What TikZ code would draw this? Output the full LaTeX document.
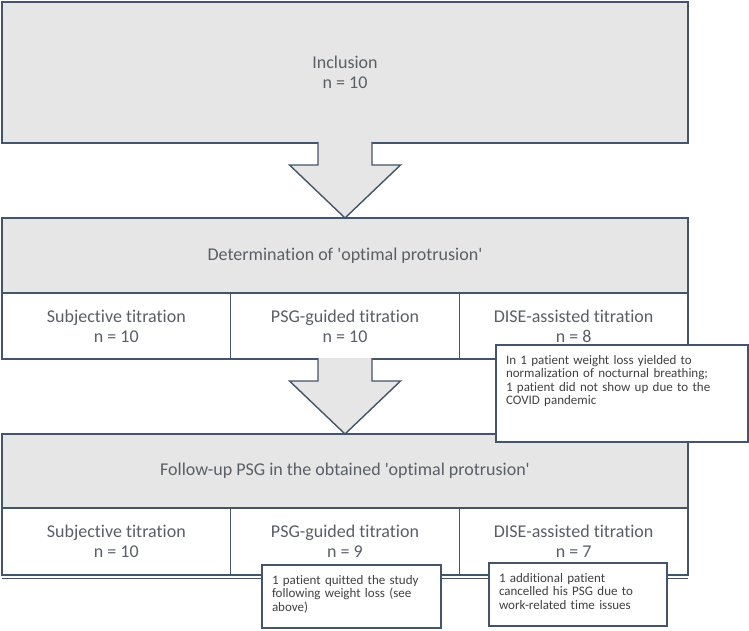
\documentclass[tikz,border=0pt]{standalone}
\usepackage{fontspec}
\setmainfont{Carlito}[RawFeature={-liga;-clig;-dlig;-calt}]
\usetikzlibrary{positioning,calc}

\definecolor{edgegrey}{HTML}{44546A}
\definecolor{boxgrey}{HTML}{E7E6E6}
\definecolor{textgrey}{HTML}{5A5F66}
\definecolor{notegrey}{HTML}{404040}

\tikzset{
  stage/.style={draw=edgegrey, line width=1.4pt, fill=boxgrey, text=textgrey,
    font=\fontsize{18}{20}\selectfont, minimum width=686pt,
    inner sep=0pt, outer sep=0pt, align=center},
  arm/.style={draw=edgegrey, line width=1.4pt, fill=white, text=textgrey,
    font=\fontsize{18}{20}\selectfont, minimum width=228.667pt,
    inner sep=0pt, outer sep=0pt, align=center},
  note/.style={draw=edgegrey, line width=1.1pt, fill=white, text=notegrey,
    font=\fontsize{13}{13.6}\selectfont, align=left, anchor=north west,
    inner xsep=10pt, inner ysep=0pt, outer sep=0pt, text height=19pt},
  blockarrow/.style={draw=edgegrey, line width=1.4pt, fill=boxgrey, line join=miter}
}

\begin{document}
\begin{tikzpicture}[x=1pt, y=1pt]

    % Page frame (749 x 630)
    \useasboundingbox (0,0) rectangle (749,630);

    % Stage 1: inclusion
    \node[stage, minimum height=141pt] (incl) at (345,557.5) {Inclusion\\n = 10};

    % Stage 2: determination of protrusion, split in three arms
    \node[stage, minimum height=75pt, below=75pt of incl] (det)
        {Determination of \textquotesingle optimal protrusion\textquotesingle};
    \node[arm, minimum height=66pt, anchor=north west] (subj1) at (det.south west)
        {Subjective titration\\n = 10};
    \node[arm, minimum height=66pt, right=0pt of subj1] (psg1) {PSG-guided titration\\n = 10};
    \node[arm, minimum height=66pt, right=0pt of psg1] (dise1) {DISE-assisted titration\\n = 8};

    % Stage 3: follow-up PSG, split in three arms
    \node[stage, minimum height=74pt, below=75pt of psg1] (fu)
        {Follow-up PSG in the obtained \textquotesingle optimal protrusion\textquotesingle};
    \node[arm, minimum height=67pt, anchor=north west] (subj2) at (fu.south west)
        {Subjective titration\\n = 10};
    \node[arm, minimum height=67pt, right=0pt of subj2] (psg2) {PSG-guided titration\\n = 9};
    \node[arm, minimum height=67pt, right=0pt of psg2] (dise2) {DISE-assisted titration\\n = 7};

    % second line under the last row
    \draw[edgegrey, line width=1pt] ([yshift=-3pt]subj2.south west) -- ([yshift=-3pt]dise2.south east);

    % Block arrows between the stages
    \foreach \src/\dst in {incl/det, psg1/fu} {
        \draw[blockarrow] ($(\src.south)+(-27,1)$) -- ++(0,-23) -- ++(-28.5,0)
            -- (\dst.north) -- ($(\src.south)+(55.5,-22)$) -- ++(-28.5,0)
            -- ($(\src.south)+(27,1)$);
    }

    % Notes on drop-outs
    \node[note, text width=232pt, text depth=78pt] (noteloss) at (496,285)
        {In 1 patient weight loss yielded to\\
         normalization of nocturnal breathing;\\
         1 patient did not show up due to the\\
         COVID pandemic};
    \node[note, text width=159pt, text depth=44pt] (notequit) at (262,65)
        {1 patient quitted the study\\
         following weight loss (see\\
         above)};
    \node[note, text width=158pt, text depth=44pt] (notecancel) at (489,67)
        {1 additional patient\\
         cancelled his PSG due to\\
         work-related time issues};

\end{tikzpicture}
\end{document}
